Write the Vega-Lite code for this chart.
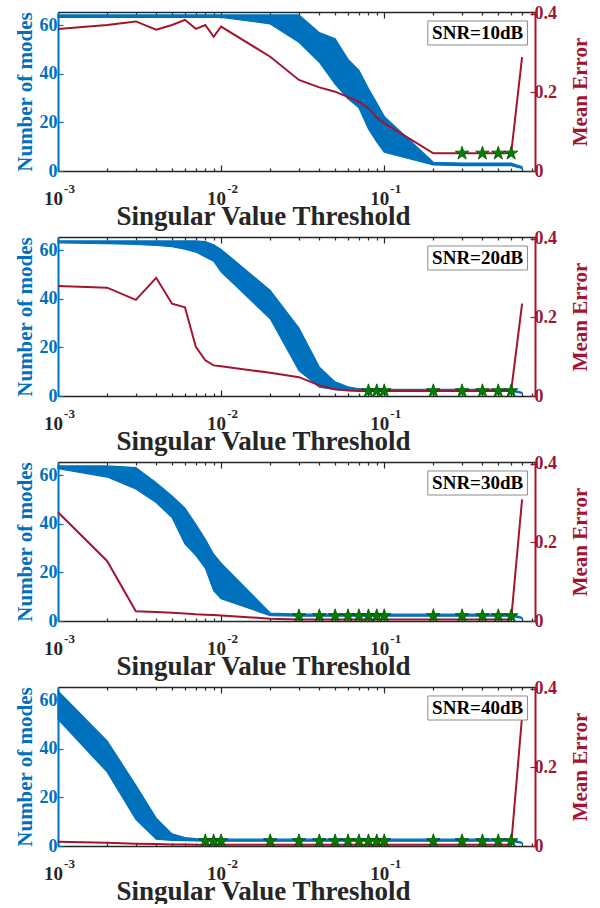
{
  "$schema": "https://vega.github.io/schema/vega-lite/v6.json",
  "background": "white",
  "padding": {"left": 13, "top": 4, "right": 0, "bottom": 0},
  "spacing": 0,
  "datasets": {
    "band": [
      {"snr": 10, "threshold": 0.001, "modes_lo": 63.3, "modes_hi": 64.3, "mean_error": 0.362},
      {"snr": 10, "threshold": 0.002, "modes_lo": 63.3, "modes_hi": 64.3, "mean_error": 0.372},
      {"snr": 10, "threshold": 0.003, "modes_lo": 63.3, "modes_hi": 64.3, "mean_error": 0.381},
      {"snr": 10, "threshold": 0.004, "modes_lo": 63.3, "modes_hi": 64.3, "mean_error": 0.360},
      {"snr": 10, "threshold": 0.005, "modes_lo": 63.3, "modes_hi": 64.3, "mean_error": 0.372},
      {"snr": 10, "threshold": 0.006, "modes_lo": 63.3, "modes_hi": 64.3, "mean_error": 0.385},
      {"snr": 10, "threshold": 0.007, "modes_lo": 63.3, "modes_hi": 64.3, "mean_error": 0.362},
      {"snr": 10, "threshold": 0.008, "modes_lo": 63.3, "modes_hi": 64.3, "mean_error": 0.372},
      {"snr": 10, "threshold": 0.009, "modes_lo": 63.3, "modes_hi": 64.3, "mean_error": 0.342},
      {"snr": 10, "threshold": 0.01, "modes_lo": 63.3, "modes_hi": 64.3, "mean_error": 0.368},
      {"snr": 10, "threshold": 0.02, "modes_lo": 60.6, "modes_hi": 64.3, "mean_error": 0.291},
      {"snr": 10, "threshold": 0.03, "modes_lo": 53.0, "modes_hi": 64.3, "mean_error": 0.232},
      {"snr": 10, "threshold": 0.04, "modes_lo": 44.8, "modes_hi": 57.0, "mean_error": 0.213},
      {"snr": 10, "threshold": 0.05, "modes_lo": 35.8, "modes_hi": 54.5, "mean_error": 0.202},
      {"snr": 10, "threshold": 0.06, "modes_lo": 29.7, "modes_hi": 46.0, "mean_error": 0.188},
      {"snr": 10, "threshold": 0.07, "modes_lo": 26.0, "modes_hi": 41.5, "mean_error": 0.177},
      {"snr": 10, "threshold": 0.08, "modes_lo": 17.3, "modes_hi": 34.0, "mean_error": 0.160},
      {"snr": 10, "threshold": 0.09, "modes_lo": 12.0, "modes_hi": 28.0, "mean_error": 0.136},
      {"snr": 10, "threshold": 0.1, "modes_lo": 7.7, "modes_hi": 22.5, "mean_error": 0.122},
      {"snr": 10, "threshold": 0.2, "modes_lo": 2.5, "modes_hi": 3.6, "mean_error": 0.045},
      {"snr": 10, "threshold": 0.3, "modes_lo": 2.2, "modes_hi": 3.3, "mean_error": 0.045},
      {"snr": 10, "threshold": 0.4, "modes_lo": 2.2, "modes_hi": 3.3, "mean_error": 0.045},
      {"snr": 10, "threshold": 0.5, "modes_lo": 2.2, "modes_hi": 3.3, "mean_error": 0.045},
      {"snr": 10, "threshold": 0.6, "modes_lo": 2.2, "modes_hi": 3.3, "mean_error": 0.045},
      {"snr": 10, "threshold": 0.7, "modes_lo": 1.0, "modes_hi": 1.8, "mean_error": 0.29},

      {"snr": 20, "threshold": 0.001, "modes_lo": 63.1, "modes_hi": 63.9, "mean_error": 0.280},
      {"snr": 20, "threshold": 0.002, "modes_lo": 62.8, "modes_hi": 63.9, "mean_error": 0.276},
      {"snr": 20, "threshold": 0.003, "modes_lo": 62.4, "modes_hi": 63.9, "mean_error": 0.245},
      {"snr": 20, "threshold": 0.004, "modes_lo": 62.0, "modes_hi": 63.9, "mean_error": 0.301},
      {"snr": 20, "threshold": 0.005, "modes_lo": 61.5, "modes_hi": 63.9, "mean_error": 0.235},
      {"snr": 20, "threshold": 0.006, "modes_lo": 60.5, "modes_hi": 63.9, "mean_error": 0.226},
      {"snr": 20, "threshold": 0.007, "modes_lo": 59.3, "modes_hi": 63.9, "mean_error": 0.125},
      {"snr": 20, "threshold": 0.008, "modes_lo": 57.3, "modes_hi": 63.6, "mean_error": 0.091},
      {"snr": 20, "threshold": 0.009, "modes_lo": 55.5, "modes_hi": 62.3, "mean_error": 0.078},
      {"snr": 20, "threshold": 0.01, "modes_lo": 51.1, "modes_hi": 60.4, "mean_error": 0.076},
      {"snr": 20, "threshold": 0.02, "modes_lo": 31.8, "modes_hi": 43.5, "mean_error": 0.059},
      {"snr": 20, "threshold": 0.03, "modes_lo": 10.5, "modes_hi": 28.0, "mean_error": 0.048},
      {"snr": 20, "threshold": 0.04, "modes_lo": 3.6, "modes_hi": 11.9, "mean_error": 0.027},
      {"snr": 20, "threshold": 0.05, "modes_lo": 2.6, "modes_hi": 5.8, "mean_error": 0.017},
      {"snr": 20, "threshold": 0.06, "modes_lo": 2.3, "modes_hi": 3.8, "mean_error": 0.014},
      {"snr": 20, "threshold": 0.07, "modes_lo": 2.2, "modes_hi": 3.0, "mean_error": 0.013},
      {"snr": 20, "threshold": 0.08, "modes_lo": 2.0, "modes_hi": 2.7, "mean_error": 0.013},
      {"snr": 20, "threshold": 0.09, "modes_lo": 2.0, "modes_hi": 2.7, "mean_error": 0.013},
      {"snr": 20, "threshold": 0.1, "modes_lo": 2.0, "modes_hi": 2.7, "mean_error": 0.013},
      {"snr": 20, "threshold": 0.2, "modes_lo": 2.0, "modes_hi": 2.7, "mean_error": 0.013},
      {"snr": 20, "threshold": 0.3, "modes_lo": 2.0, "modes_hi": 2.7, "mean_error": 0.013},
      {"snr": 20, "threshold": 0.4, "modes_lo": 2.0, "modes_hi": 2.7, "mean_error": 0.013},
      {"snr": 20, "threshold": 0.5, "modes_lo": 2.0, "modes_hi": 2.7, "mean_error": 0.013},
      {"snr": 20, "threshold": 0.6, "modes_lo": 2.0, "modes_hi": 2.7, "mean_error": 0.013},
      {"snr": 20, "threshold": 0.7, "modes_lo": 1.0, "modes_hi": 1.5, "mean_error": 0.235},

      {"snr": 30, "threshold": 0.001, "modes_lo": 62.8, "modes_hi": 63.9, "mean_error": 0.277},
      {"snr": 30, "threshold": 0.002, "modes_lo": 59.3, "modes_hi": 63.9, "mean_error": 0.153},
      {"snr": 30, "threshold": 0.003, "modes_lo": 54.4, "modes_hi": 63.2, "mean_error": 0.025},
      {"snr": 30, "threshold": 0.004, "modes_lo": 48.8, "modes_hi": 57.0, "mean_error": 0.023},
      {"snr": 30, "threshold": 0.005, "modes_lo": 42.6, "modes_hi": 51.5, "mean_error": 0.021},
      {"snr": 30, "threshold": 0.006, "modes_lo": 31.8, "modes_hi": 46.5, "mean_error": 0.019},
      {"snr": 30, "threshold": 0.007, "modes_lo": 27.0, "modes_hi": 39.8, "mean_error": 0.017},
      {"snr": 30, "threshold": 0.008, "modes_lo": 21.8, "modes_hi": 33.7, "mean_error": 0.016},
      {"snr": 30, "threshold": 0.009, "modes_lo": 12.5, "modes_hi": 27.5, "mean_error": 0.015},
      {"snr": 30, "threshold": 0.01, "modes_lo": 9.2, "modes_hi": 23.8, "mean_error": 0.014},
      {"snr": 30, "threshold": 0.02, "modes_lo": 2.2, "modes_hi": 3.3, "mean_error": 0.006},
      {"snr": 30, "threshold": 0.03, "modes_lo": 2.0, "modes_hi": 2.8, "mean_error": 0.004},
      {"snr": 30, "threshold": 0.04, "modes_lo": 2.0, "modes_hi": 2.8, "mean_error": 0.004},
      {"snr": 30, "threshold": 0.05, "modes_lo": 2.0, "modes_hi": 2.8, "mean_error": 0.004},
      {"snr": 30, "threshold": 0.06, "modes_lo": 2.0, "modes_hi": 2.8, "mean_error": 0.004},
      {"snr": 30, "threshold": 0.07, "modes_lo": 2.0, "modes_hi": 2.8, "mean_error": 0.004},
      {"snr": 30, "threshold": 0.08, "modes_lo": 2.0, "modes_hi": 2.8, "mean_error": 0.004},
      {"snr": 30, "threshold": 0.09, "modes_lo": 2.0, "modes_hi": 2.8, "mean_error": 0.004},
      {"snr": 30, "threshold": 0.1, "modes_lo": 2.0, "modes_hi": 2.8, "mean_error": 0.004},
      {"snr": 30, "threshold": 0.2, "modes_lo": 2.0, "modes_hi": 2.8, "mean_error": 0.004},
      {"snr": 30, "threshold": 0.3, "modes_lo": 2.0, "modes_hi": 2.8, "mean_error": 0.004},
      {"snr": 30, "threshold": 0.4, "modes_lo": 2.0, "modes_hi": 2.8, "mean_error": 0.004},
      {"snr": 30, "threshold": 0.5, "modes_lo": 2.0, "modes_hi": 2.8, "mean_error": 0.004},
      {"snr": 30, "threshold": 0.6, "modes_lo": 2.0, "modes_hi": 2.8, "mean_error": 0.004},
      {"snr": 30, "threshold": 0.7, "modes_lo": 1.0, "modes_hi": 1.5, "mean_error": 0.31},

      {"snr": 40, "threshold": 0.001, "modes_lo": 52.2, "modes_hi": 63.9, "mean_error": 0.011},
      {"snr": 40, "threshold": 0.002, "modes_lo": 30.5, "modes_hi": 43.3, "mean_error": 0.008},
      {"snr": 40, "threshold": 0.003, "modes_lo": 11.0, "modes_hi": 25.0, "mean_error": 0.006},
      {"snr": 40, "threshold": 0.004, "modes_lo": 2.8, "modes_hi": 11.5, "mean_error": 0.005},
      {"snr": 40, "threshold": 0.005, "modes_lo": 2.3, "modes_hi": 5.0, "mean_error": 0.004},
      {"snr": 40, "threshold": 0.006, "modes_lo": 2.2, "modes_hi": 3.5, "mean_error": 0.004},
      {"snr": 40, "threshold": 0.007, "modes_lo": 2.1, "modes_hi": 3.0, "mean_error": 0.003},
      {"snr": 40, "threshold": 0.008, "modes_lo": 2.0, "modes_hi": 2.8, "mean_error": 0.003},
      {"snr": 40, "threshold": 0.009, "modes_lo": 2.0, "modes_hi": 2.8, "mean_error": 0.003},
      {"snr": 40, "threshold": 0.01, "modes_lo": 2.0, "modes_hi": 2.8, "mean_error": 0.003},
      {"snr": 40, "threshold": 0.02, "modes_lo": 2.0, "modes_hi": 2.8, "mean_error": 0.003},
      {"snr": 40, "threshold": 0.03, "modes_lo": 2.0, "modes_hi": 2.8, "mean_error": 0.003},
      {"snr": 40, "threshold": 0.04, "modes_lo": 2.0, "modes_hi": 2.8, "mean_error": 0.003},
      {"snr": 40, "threshold": 0.05, "modes_lo": 2.0, "modes_hi": 2.8, "mean_error": 0.003},
      {"snr": 40, "threshold": 0.06, "modes_lo": 2.0, "modes_hi": 2.8, "mean_error": 0.003},
      {"snr": 40, "threshold": 0.07, "modes_lo": 2.0, "modes_hi": 2.8, "mean_error": 0.003},
      {"snr": 40, "threshold": 0.08, "modes_lo": 2.0, "modes_hi": 2.8, "mean_error": 0.003},
      {"snr": 40, "threshold": 0.09, "modes_lo": 2.0, "modes_hi": 2.8, "mean_error": 0.003},
      {"snr": 40, "threshold": 0.1, "modes_lo": 2.0, "modes_hi": 2.8, "mean_error": 0.003},
      {"snr": 40, "threshold": 0.2, "modes_lo": 2.0, "modes_hi": 2.8, "mean_error": 0.003},
      {"snr": 40, "threshold": 0.3, "modes_lo": 2.0, "modes_hi": 2.8, "mean_error": 0.003},
      {"snr": 40, "threshold": 0.4, "modes_lo": 2.0, "modes_hi": 2.8, "mean_error": 0.003},
      {"snr": 40, "threshold": 0.5, "modes_lo": 2.0, "modes_hi": 2.8, "mean_error": 0.003},
      {"snr": 40, "threshold": 0.6, "modes_lo": 2.0, "modes_hi": 2.8, "mean_error": 0.003},
      {"snr": 40, "threshold": 0.7, "modes_lo": 1.0, "modes_hi": 1.5, "mean_error": 0.33}
    ],
    "stars": [
      {"snr": 10, "threshold": 0.3, "mean_error": 0.045},
      {"snr": 10, "threshold": 0.4, "mean_error": 0.045},
      {"snr": 10, "threshold": 0.5, "mean_error": 0.045},
      {"snr": 10, "threshold": 0.6, "mean_error": 0.045},
      {"snr": 20, "threshold": 0.08, "mean_error": 0.013},
      {"snr": 20, "threshold": 0.09, "mean_error": 0.013},
      {"snr": 20, "threshold": 0.1, "mean_error": 0.013},
      {"snr": 20, "threshold": 0.2, "mean_error": 0.013},
      {"snr": 20, "threshold": 0.3, "mean_error": 0.013},
      {"snr": 20, "threshold": 0.4, "mean_error": 0.013},
      {"snr": 20, "threshold": 0.5, "mean_error": 0.013},
      {"snr": 20, "threshold": 0.6, "mean_error": 0.013},
      {"snr": 30, "threshold": 0.03, "mean_error": 0.013},
      {"snr": 30, "threshold": 0.04, "mean_error": 0.013},
      {"snr": 30, "threshold": 0.05, "mean_error": 0.013},
      {"snr": 30, "threshold": 0.06, "mean_error": 0.013},
      {"snr": 30, "threshold": 0.07, "mean_error": 0.013},
      {"snr": 30, "threshold": 0.08, "mean_error": 0.013},
      {"snr": 30, "threshold": 0.09, "mean_error": 0.013},
      {"snr": 30, "threshold": 0.1, "mean_error": 0.013},
      {"snr": 30, "threshold": 0.2, "mean_error": 0.013},
      {"snr": 30, "threshold": 0.3, "mean_error": 0.013},
      {"snr": 30, "threshold": 0.4, "mean_error": 0.013},
      {"snr": 30, "threshold": 0.5, "mean_error": 0.013},
      {"snr": 30, "threshold": 0.6, "mean_error": 0.013},
      {"snr": 40, "threshold": 0.008, "mean_error": 0.013},
      {"snr": 40, "threshold": 0.009, "mean_error": 0.013},
      {"snr": 40, "threshold": 0.01, "mean_error": 0.013},
      {"snr": 40, "threshold": 0.02, "mean_error": 0.013},
      {"snr": 40, "threshold": 0.03, "mean_error": 0.013},
      {"snr": 40, "threshold": 0.04, "mean_error": 0.013},
      {"snr": 40, "threshold": 0.05, "mean_error": 0.013},
      {"snr": 40, "threshold": 0.06, "mean_error": 0.013},
      {"snr": 40, "threshold": 0.07, "mean_error": 0.013},
      {"snr": 40, "threshold": 0.08, "mean_error": 0.013},
      {"snr": 40, "threshold": 0.09, "mean_error": 0.013},
      {"snr": 40, "threshold": 0.1, "mean_error": 0.013},
      {"snr": 40, "threshold": 0.2, "mean_error": 0.013},
      {"snr": 40, "threshold": 0.3, "mean_error": 0.013},
      {"snr": 40, "threshold": 0.4, "mean_error": 0.013},
      {"snr": 40, "threshold": 0.5, "mean_error": 0.013},
      {"snr": 40, "threshold": 0.6, "mean_error": 0.013}
    ],
    "labels": [
      {"snr": 10, "label": "SNR=10dB"},
      {"snr": 20, "label": "SNR=20dB"},
      {"snr": 30, "label": "SNR=30dB"},
      {"snr": 40, "label": "SNR=40dB"}
    ]
  },
  "vconcat": [
    {
      "width": 477, "height": 159,
      "layer": [
        {"data": {"name": "band"}, "transform": [{"filter": "datum.snr == 10"}],
         "mark": {"type": "area", "orient": "vertical", "color": "#0072BD", "stroke": "#0072BD", "strokeWidth": 1.2, "opacity": 1},
         "encoding": {
           "x": {"field": "threshold", "type": "quantitative", "scale": {"type": "log", "domain": [0.001, 0.84], "nice": false},
                 "axis": {"orient": "bottom", "values": [0.001, 0.01, 0.1], "labelExpr": "'10'", "labelOffset": -5, "labelPadding": 24, "labelFontSize": 19, "labelFlush": false, "tickSize": -6, "tickColor": "#262626", "domainColor": "#262626", "domainWidth": 1.5, "title": "Singular Value Threshold", "titleFontSize": 27, "titlePadding": -5, "titleX": 205, "titleColor": "#262626", "labelColor": "#262626"}},
           "y": {"field": "modes_lo", "type": "quantitative", "scale": {"domain": [0, 65.5], "nice": false},
                 "axis": {"orient": "left", "values": [0, 20, 40, 60], "tickSize": -5, "tickColor": "#0072BD", "domainColor": "#0072BD", "domainWidth": 2, "labelColor": "#0072BD", "labelFontSize": 18, "labelPadding": 6, "title": "Number of modes", "titleColor": "#0072BD", "titleFontSize": 21, "titlePadding": 4}},
           "y2": {"field": "modes_hi"}
         }},
        {"data": {"name": "band"}, "transform": [{"filter": "datum.snr == 10"}],
         "mark": {"type": "line", "color": "#A2142F", "strokeWidth": 2},
         "encoding": {
           "x": {"field": "threshold", "type": "quantitative", "scale": {"type": "log", "domain": [0.001, 0.84], "nice": false},
                 "axis": {"orient": "top", "values": [0.001, 0.01, 0.1], "labels": false, "tickSize": -6, "tickColor": "#262626", "domainColor": "#262626", "domainWidth": 1.5, "title": null}},
           "y": {"field": "mean_error", "type": "quantitative", "scale": {"domain": [0, 0.405], "nice": false},
                 "axis": {"orient": "right", "values": [0, 0.2, 0.4], "labelExpr": "datum.value == 0 ? '0' : format(datum.value, '.1f')", "tickSize": -5, "tickColor": "#A2142F", "domainColor": "#A2142F", "domainWidth": 2, "labelColor": "#A2142F", "labelFontSize": 18, "labelPadding": 4, "title": "Mean Error", "titleColor": "#A2142F", "titleFontSize": 21, "titlePadding": 13, "titleAngle": 270, "titleBaseline": "top"}}
         }},
        {"data": {"name": "stars"}, "transform": [{"filter": "datum.snr == 10"}],
         "mark": {"type": "point", "shape": "M0,-1L0.2245,-0.309L0.951,-0.309L0.363,0.118L0.588,0.809L0,0.382L-0.588,0.809L-0.363,0.118L-0.951,-0.309L-0.2245,-0.309Z", "filled": true, "fill": "#008000", "stroke": "#004d00", "strokeWidth": 0.8, "size": 200, "opacity": 1},
         "encoding": {
           "x": {"field": "threshold", "type": "quantitative", "scale": {"type": "log", "domain": [0.001, 0.84], "nice": false},
                 "axis": {"orient": "bottom", "values": [0.002,0.003,0.004,0.005,0.006,0.007,0.008,0.009,0.02,0.03,0.04,0.05,0.06,0.07,0.08,0.09,0.2,0.3,0.4,0.5,0.6,0.7,0.8], "labels": false, "domain": false, "tickSize": -3, "tickColor": "#262626", "title": null}},
           "y": {"field": "mean_error", "type": "quantitative", "scale": {"domain": [0, 0.405], "nice": false}, "axis": null}
         }},
        {"data": {"name": "labels"}, "transform": [{"filter": "datum.snr == 10"}],
         "mark": {"type": "rect", "fill": "white", "stroke": "#8c8c8c", "strokeWidth": 1},
         "encoding": {
           "x": {"datum": 0.185, "type": "quantitative", "scale": {"type": "log", "domain": [0.001, 0.84], "nice": false},
                 "axis": {"orient": "top", "values": [0.002,0.003,0.004,0.005,0.006,0.007,0.008,0.009,0.02,0.03,0.04,0.05,0.06,0.07,0.08,0.09,0.2,0.3,0.4,0.5,0.6,0.7,0.8], "labels": false, "domain": false, "tickSize": -3, "tickColor": "#262626", "title": null}},
           "x2": {"datum": 0.755},
           "y": {"datum": 61.8, "type": "quantitative", "scale": {"domain": [0, 65.5], "nice": false}, "axis": null},
           "y2": {"datum": 51.9}
         }},
        {"data": {"name": "labels"}, "transform": [{"filter": "datum.snr == 10"}],
         "mark": {"type": "text", "font": "Liberation Serif", "fontWeight": "bold", "fontSize": 19, "color": "#000000"},
         "encoding": {
           "x": {"datum": 0.3737, "type": "quantitative", "scale": {"type": "log", "domain": [0.001, 0.84], "nice": false},
                 "axis": {"orient": "bottom", "values": [0.001, 0.01, 0.1], "labelExpr": "datum.value < 0.005 ? '-3' : datum.value < 0.05 ? '-2' : '-1'", "labelOffset": 11, "labelPadding": 11, "labelFontSize": 13, "labelFlush": false, "ticks": false, "domain": false, "labelColor": "#262626", "title": null}},
           "y": {"datum": 56.85, "type": "quantitative", "scale": {"domain": [0, 65.5], "nice": false}, "axis": null},
           "text": {"field": "label"}
         }}
      ],
      "resolve": {"scale": {"y": "independent"}, "axis": {"x": "independent"}}
    },
    {
      "width": 477, "height": 159,
      "layer": [
        {"data": {"name": "band"}, "transform": [{"filter": "datum.snr == 20"}],
         "mark": {"type": "area", "orient": "vertical", "color": "#0072BD", "stroke": "#0072BD", "strokeWidth": 1.2, "opacity": 1},
         "encoding": {
           "x": {"field": "threshold", "type": "quantitative", "scale": {"type": "log", "domain": [0.001, 0.84], "nice": false},
                 "axis": {"orient": "bottom", "values": [0.001, 0.01, 0.1], "labelExpr": "'10'", "labelOffset": -5, "labelPadding": 24, "labelFontSize": 19, "labelFlush": false, "tickSize": -6, "tickColor": "#262626", "domainColor": "#262626", "domainWidth": 1.5, "title": "Singular Value Threshold", "titleFontSize": 27, "titlePadding": -5, "titleX": 205, "titleColor": "#262626", "labelColor": "#262626"}},
           "y": {"field": "modes_lo", "type": "quantitative", "scale": {"domain": [0, 65.5], "nice": false},
                 "axis": {"orient": "left", "values": [0, 20, 40, 60], "tickSize": -5, "tickColor": "#0072BD", "domainColor": "#0072BD", "domainWidth": 2, "labelColor": "#0072BD", "labelFontSize": 18, "labelPadding": 6, "title": "Number of modes", "titleColor": "#0072BD", "titleFontSize": 21, "titlePadding": 4}},
           "y2": {"field": "modes_hi"}
         }},
        {"data": {"name": "band"}, "transform": [{"filter": "datum.snr == 20"}],
         "mark": {"type": "line", "color": "#A2142F", "strokeWidth": 2},
         "encoding": {
           "x": {"field": "threshold", "type": "quantitative", "scale": {"type": "log", "domain": [0.001, 0.84], "nice": false},
                 "axis": {"orient": "top", "values": [0.001, 0.01, 0.1], "labels": false, "tickSize": -6, "tickColor": "#262626", "domainColor": "#262626", "domainWidth": 1.5, "title": null}},
           "y": {"field": "mean_error", "type": "quantitative", "scale": {"domain": [0, 0.405], "nice": false},
                 "axis": {"orient": "right", "values": [0, 0.2, 0.4], "labelExpr": "datum.value == 0 ? '0' : format(datum.value, '.1f')", "tickSize": -5, "tickColor": "#A2142F", "domainColor": "#A2142F", "domainWidth": 2, "labelColor": "#A2142F", "labelFontSize": 18, "labelPadding": 4, "title": "Mean Error", "titleColor": "#A2142F", "titleFontSize": 21, "titlePadding": 13, "titleAngle": 270, "titleBaseline": "top"}}
         }},
        {"data": {"name": "stars"}, "transform": [{"filter": "datum.snr == 20"}],
         "mark": {"type": "point", "shape": "M0,-1L0.2245,-0.309L0.951,-0.309L0.363,0.118L0.588,0.809L0,0.382L-0.588,0.809L-0.363,0.118L-0.951,-0.309L-0.2245,-0.309Z", "filled": true, "fill": "#008000", "stroke": "#004d00", "strokeWidth": 0.8, "size": 200, "opacity": 1},
         "encoding": {
           "x": {"field": "threshold", "type": "quantitative", "scale": {"type": "log", "domain": [0.001, 0.84], "nice": false},
                 "axis": {"orient": "bottom", "values": [0.002,0.003,0.004,0.005,0.006,0.007,0.008,0.009,0.02,0.03,0.04,0.05,0.06,0.07,0.08,0.09,0.2,0.3,0.4,0.5,0.6,0.7,0.8], "labels": false, "domain": false, "tickSize": -3, "tickColor": "#262626", "title": null}},
           "y": {"field": "mean_error", "type": "quantitative", "scale": {"domain": [0, 0.405], "nice": false}, "axis": null}
         }},
        {"data": {"name": "labels"}, "transform": [{"filter": "datum.snr == 20"}],
         "mark": {"type": "rect", "fill": "white", "stroke": "#8c8c8c", "strokeWidth": 1},
         "encoding": {
           "x": {"datum": 0.185, "type": "quantitative", "scale": {"type": "log", "domain": [0.001, 0.84], "nice": false},
                 "axis": {"orient": "top", "values": [0.002,0.003,0.004,0.005,0.006,0.007,0.008,0.009,0.02,0.03,0.04,0.05,0.06,0.07,0.08,0.09,0.2,0.3,0.4,0.5,0.6,0.7,0.8], "labels": false, "domain": false, "tickSize": -3, "tickColor": "#262626", "title": null}},
           "x2": {"datum": 0.755},
           "y": {"datum": 61.8, "type": "quantitative", "scale": {"domain": [0, 65.5], "nice": false}, "axis": null},
           "y2": {"datum": 51.9}
         }},
        {"data": {"name": "labels"}, "transform": [{"filter": "datum.snr == 20"}],
         "mark": {"type": "text", "font": "Liberation Serif", "fontWeight": "bold", "fontSize": 19, "color": "#000000"},
         "encoding": {
           "x": {"datum": 0.3737, "type": "quantitative", "scale": {"type": "log", "domain": [0.001, 0.84], "nice": false},
                 "axis": {"orient": "bottom", "values": [0.001, 0.01, 0.1], "labelExpr": "datum.value < 0.005 ? '-3' : datum.value < 0.05 ? '-2' : '-1'", "labelOffset": 11, "labelPadding": 11, "labelFontSize": 13, "labelFlush": false, "ticks": false, "domain": false, "labelColor": "#262626", "title": null}},
           "y": {"datum": 56.85, "type": "quantitative", "scale": {"domain": [0, 65.5], "nice": false}, "axis": null},
           "text": {"field": "label"}
         }}
      ],
      "resolve": {"scale": {"y": "independent"}, "axis": {"x": "independent"}}
    },
    {
      "width": 477, "height": 159,
      "layer": [
        {"data": {"name": "band"}, "transform": [{"filter": "datum.snr == 30"}],
         "mark": {"type": "area", "orient": "vertical", "color": "#0072BD", "stroke": "#0072BD", "strokeWidth": 1.2, "opacity": 1},
         "encoding": {
           "x": {"field": "threshold", "type": "quantitative", "scale": {"type": "log", "domain": [0.001, 0.84], "nice": false},
                 "axis": {"orient": "bottom", "values": [0.001, 0.01, 0.1], "labelExpr": "'10'", "labelOffset": -5, "labelPadding": 24, "labelFontSize": 19, "labelFlush": false, "tickSize": -6, "tickColor": "#262626", "domainColor": "#262626", "domainWidth": 1.5, "title": "Singular Value Threshold", "titleFontSize": 27, "titlePadding": -5, "titleX": 205, "titleColor": "#262626", "labelColor": "#262626"}},
           "y": {"field": "modes_lo", "type": "quantitative", "scale": {"domain": [0, 65.5], "nice": false},
                 "axis": {"orient": "left", "values": [0, 20, 40, 60], "tickSize": -5, "tickColor": "#0072BD", "domainColor": "#0072BD", "domainWidth": 2, "labelColor": "#0072BD", "labelFontSize": 18, "labelPadding": 6, "title": "Number of modes", "titleColor": "#0072BD", "titleFontSize": 21, "titlePadding": 4}},
           "y2": {"field": "modes_hi"}
         }},
        {"data": {"name": "band"}, "transform": [{"filter": "datum.snr == 30"}],
         "mark": {"type": "line", "color": "#A2142F", "strokeWidth": 2},
         "encoding": {
           "x": {"field": "threshold", "type": "quantitative", "scale": {"type": "log", "domain": [0.001, 0.84], "nice": false},
                 "axis": {"orient": "top", "values": [0.001, 0.01, 0.1], "labels": false, "tickSize": -6, "tickColor": "#262626", "domainColor": "#262626", "domainWidth": 1.5, "title": null}},
           "y": {"field": "mean_error", "type": "quantitative", "scale": {"domain": [0, 0.405], "nice": false},
                 "axis": {"orient": "right", "values": [0, 0.2, 0.4], "labelExpr": "datum.value == 0 ? '0' : format(datum.value, '.1f')", "tickSize": -5, "tickColor": "#A2142F", "domainColor": "#A2142F", "domainWidth": 2, "labelColor": "#A2142F", "labelFontSize": 18, "labelPadding": 4, "title": "Mean Error", "titleColor": "#A2142F", "titleFontSize": 21, "titlePadding": 13, "titleAngle": 270, "titleBaseline": "top"}}
         }},
        {"data": {"name": "stars"}, "transform": [{"filter": "datum.snr == 30"}],
         "mark": {"type": "point", "shape": "M0,-1L0.2245,-0.309L0.951,-0.309L0.363,0.118L0.588,0.809L0,0.382L-0.588,0.809L-0.363,0.118L-0.951,-0.309L-0.2245,-0.309Z", "filled": true, "fill": "#008000", "stroke": "#004d00", "strokeWidth": 0.8, "size": 200, "opacity": 1},
         "encoding": {
           "x": {"field": "threshold", "type": "quantitative", "scale": {"type": "log", "domain": [0.001, 0.84], "nice": false},
                 "axis": {"orient": "bottom", "values": [0.002,0.003,0.004,0.005,0.006,0.007,0.008,0.009,0.02,0.03,0.04,0.05,0.06,0.07,0.08,0.09,0.2,0.3,0.4,0.5,0.6,0.7,0.8], "labels": false, "domain": false, "tickSize": -3, "tickColor": "#262626", "title": null}},
           "y": {"field": "mean_error", "type": "quantitative", "scale": {"domain": [0, 0.405], "nice": false}, "axis": null}
         }},
        {"data": {"name": "labels"}, "transform": [{"filter": "datum.snr == 30"}],
         "mark": {"type": "rect", "fill": "white", "stroke": "#8c8c8c", "strokeWidth": 1},
         "encoding": {
           "x": {"datum": 0.185, "type": "quantitative", "scale": {"type": "log", "domain": [0.001, 0.84], "nice": false},
                 "axis": {"orient": "top", "values": [0.002,0.003,0.004,0.005,0.006,0.007,0.008,0.009,0.02,0.03,0.04,0.05,0.06,0.07,0.08,0.09,0.2,0.3,0.4,0.5,0.6,0.7,0.8], "labels": false, "domain": false, "tickSize": -3, "tickColor": "#262626", "title": null}},
           "x2": {"datum": 0.755},
           "y": {"datum": 61.8, "type": "quantitative", "scale": {"domain": [0, 65.5], "nice": false}, "axis": null},
           "y2": {"datum": 51.9}
         }},
        {"data": {"name": "labels"}, "transform": [{"filter": "datum.snr == 30"}],
         "mark": {"type": "text", "font": "Liberation Serif", "fontWeight": "bold", "fontSize": 19, "color": "#000000"},
         "encoding": {
           "x": {"datum": 0.3737, "type": "quantitative", "scale": {"type": "log", "domain": [0.001, 0.84], "nice": false},
                 "axis": {"orient": "bottom", "values": [0.001, 0.01, 0.1], "labelExpr": "datum.value < 0.005 ? '-3' : datum.value < 0.05 ? '-2' : '-1'", "labelOffset": 11, "labelPadding": 11, "labelFontSize": 13, "labelFlush": false, "ticks": false, "domain": false, "labelColor": "#262626", "title": null}},
           "y": {"datum": 56.85, "type": "quantitative", "scale": {"domain": [0, 65.5], "nice": false}, "axis": null},
           "text": {"field": "label"}
         }}
      ],
      "resolve": {"scale": {"y": "independent"}, "axis": {"x": "independent"}}
    },
    {
      "width": 477, "height": 159,
      "layer": [
        {"data": {"name": "band"}, "transform": [{"filter": "datum.snr == 40"}],
         "mark": {"type": "area", "orient": "vertical", "color": "#0072BD", "stroke": "#0072BD", "strokeWidth": 1.2, "opacity": 1},
         "encoding": {
           "x": {"field": "threshold", "type": "quantitative", "scale": {"type": "log", "domain": [0.001, 0.84], "nice": false},
                 "axis": {"orient": "bottom", "values": [0.001, 0.01, 0.1], "labelExpr": "'10'", "labelOffset": -5, "labelPadding": 24, "labelFontSize": 19, "labelFlush": false, "tickSize": -6, "tickColor": "#262626", "domainColor": "#262626", "domainWidth": 1.5, "title": "Singular Value Threshold", "titleFontSize": 27, "titlePadding": -5, "titleX": 205, "titleColor": "#262626", "labelColor": "#262626"}},
           "y": {"field": "modes_lo", "type": "quantitative", "scale": {"domain": [0, 65.5], "nice": false},
                 "axis": {"orient": "left", "values": [0, 20, 40, 60], "tickSize": -5, "tickColor": "#0072BD", "domainColor": "#0072BD", "domainWidth": 2, "labelColor": "#0072BD", "labelFontSize": 18, "labelPadding": 6, "title": "Number of modes", "titleColor": "#0072BD", "titleFontSize": 21, "titlePadding": 4}},
           "y2": {"field": "modes_hi"}
         }},
        {"data": {"name": "band"}, "transform": [{"filter": "datum.snr == 40"}],
         "mark": {"type": "line", "color": "#A2142F", "strokeWidth": 2},
         "encoding": {
           "x": {"field": "threshold", "type": "quantitative", "scale": {"type": "log", "domain": [0.001, 0.84], "nice": false},
                 "axis": {"orient": "top", "values": [0.001, 0.01, 0.1], "labels": false, "tickSize": -6, "tickColor": "#262626", "domainColor": "#262626", "domainWidth": 1.5, "title": null}},
           "y": {"field": "mean_error", "type": "quantitative", "scale": {"domain": [0, 0.405], "nice": false},
                 "axis": {"orient": "right", "values": [0, 0.2, 0.4], "labelExpr": "datum.value == 0 ? '0' : format(datum.value, '.1f')", "tickSize": -5, "tickColor": "#A2142F", "domainColor": "#A2142F", "domainWidth": 2, "labelColor": "#A2142F", "labelFontSize": 18, "labelPadding": 4, "title": "Mean Error", "titleColor": "#A2142F", "titleFontSize": 21, "titlePadding": 13, "titleAngle": 270, "titleBaseline": "top"}}
         }},
        {"data": {"name": "stars"}, "transform": [{"filter": "datum.snr == 40"}],
         "mark": {"type": "point", "shape": "M0,-1L0.2245,-0.309L0.951,-0.309L0.363,0.118L0.588,0.809L0,0.382L-0.588,0.809L-0.363,0.118L-0.951,-0.309L-0.2245,-0.309Z", "filled": true, "fill": "#008000", "stroke": "#004d00", "strokeWidth": 0.8, "size": 200, "opacity": 1},
         "encoding": {
           "x": {"field": "threshold", "type": "quantitative", "scale": {"type": "log", "domain": [0.001, 0.84], "nice": false},
                 "axis": {"orient": "bottom", "values": [0.002,0.003,0.004,0.005,0.006,0.007,0.008,0.009,0.02,0.03,0.04,0.05,0.06,0.07,0.08,0.09,0.2,0.3,0.4,0.5,0.6,0.7,0.8], "labels": false, "domain": false, "tickSize": -3, "tickColor": "#262626", "title": null}},
           "y": {"field": "mean_error", "type": "quantitative", "scale": {"domain": [0, 0.405], "nice": false}, "axis": null}
         }},
        {"data": {"name": "labels"}, "transform": [{"filter": "datum.snr == 40"}],
         "mark": {"type": "rect", "fill": "white", "stroke": "#8c8c8c", "strokeWidth": 1},
         "encoding": {
           "x": {"datum": 0.185, "type": "quantitative", "scale": {"type": "log", "domain": [0.001, 0.84], "nice": false},
                 "axis": {"orient": "top", "values": [0.002,0.003,0.004,0.005,0.006,0.007,0.008,0.009,0.02,0.03,0.04,0.05,0.06,0.07,0.08,0.09,0.2,0.3,0.4,0.5,0.6,0.7,0.8], "labels": false, "domain": false, "tickSize": -3, "tickColor": "#262626", "title": null}},
           "x2": {"datum": 0.755},
           "y": {"datum": 61.8, "type": "quantitative", "scale": {"domain": [0, 65.5], "nice": false}, "axis": null},
           "y2": {"datum": 51.9}
         }},
        {"data": {"name": "labels"}, "transform": [{"filter": "datum.snr == 40"}],
         "mark": {"type": "text", "font": "Liberation Serif", "fontWeight": "bold", "fontSize": 19, "color": "#000000"},
         "encoding": {
           "x": {"datum": 0.3737, "type": "quantitative", "scale": {"type": "log", "domain": [0.001, 0.84], "nice": false},
                 "axis": {"orient": "bottom", "values": [0.001, 0.01, 0.1], "labelExpr": "datum.value < 0.005 ? '-3' : datum.value < 0.05 ? '-2' : '-1'", "labelOffset": 11, "labelPadding": 11, "labelFontSize": 13, "labelFlush": false, "ticks": false, "domain": false, "labelColor": "#262626", "title": null}},
           "y": {"datum": 56.85, "type": "quantitative", "scale": {"domain": [0, 65.5], "nice": false}, "axis": null},
           "text": {"field": "label"}
         }}
      ],
      "resolve": {"scale": {"y": "independent"}, "axis": {"x": "independent"}}
    }
  ],
  "config": {
    "view": {"stroke": null},
    "font": "Liberation Serif",
    "axis": {"grid": false, "labelFont": "Liberation Serif", "titleFont": "Liberation Serif", "labelFontWeight": "bold", "titleFontWeight": "bold", "tickWidth": 1.2}
  }
}
